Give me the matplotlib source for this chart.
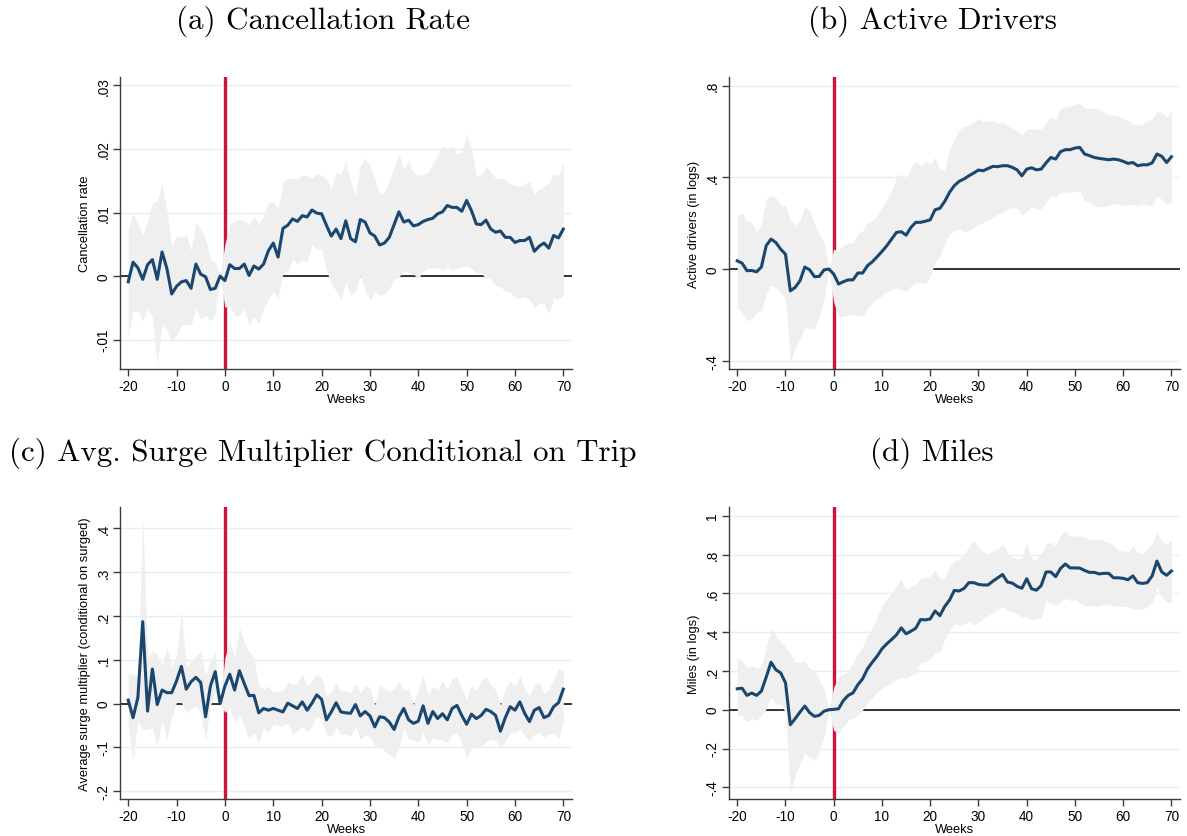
import numpy as np
import matplotlib
matplotlib.use("Agg")
from matplotlib import pyplot as plt

plt.rcParams['font.family'] = ['Liberation Sans', 'DejaVu Sans']
plt.rcParams['axes.unicode_minus'] = False

weeks = np.arange(-20, 71)

# (a) cancellation rate
cancel_coef = [-0.0009, 0.0022, 0.0013, -0.0005, 0.0018, 0.0026, -0.0005, 0.0038, 0.0012, -0.0028,
               -0.0016, -0.0009, -0.0007, -0.0019, 0.0019, 0.0003, -0.0001, -0.0021, -0.0019, 0.0,
               -0.0007, 0.0018, 0.0012, 0.0012, 0.0019, 0.0001, 0.0016, 0.0011, 0.0019, 0.0040,
               0.0052, 0.0030, 0.0075, 0.0080, 0.0090, 0.0086, 0.0095, 0.0093, 0.0104, 0.0099,
               0.0098, 0.0080, 0.0063, 0.0074, 0.0059, 0.0087, 0.0059, 0.0054, 0.0089, 0.0085,
               0.0068, 0.0063, 0.0049, 0.0052, 0.0061, 0.0081, 0.0101, 0.0085, 0.0088, 0.0079,
               0.0081, 0.0086, 0.0089, 0.0091, 0.0098, 0.0101, 0.0111, 0.0108, 0.0108, 0.0102,
               0.0119, 0.0103, 0.0082, 0.0081, 0.0088, 0.0074, 0.0069, 0.0071, 0.0061, 0.0061,
               0.0053, 0.0056, 0.0056, 0.0061, 0.0039, 0.0047, 0.0052, 0.0044, 0.0064, 0.0060, 0.0074]
cancel_hi = [0.0074, 0.0100, 0.0082, 0.0065, 0.0087, 0.0114, 0.0119, 0.0145, 0.0103, 0.0046,
             0.0064, 0.0061, 0.0066, 0.0040, 0.0084, 0.0074, 0.0059, 0.0027, 0.0022, 0.0,
             0.0050, 0.0082, 0.0087, 0.0089, 0.0087, 0.0080, 0.0095, 0.0082, 0.0095, 0.0116,
             0.0117, 0.0106, 0.0148, 0.0154, 0.0154, 0.0153, 0.0159, 0.0158, 0.0154, 0.0161,
             0.0159, 0.0153, 0.0138, 0.0164, 0.0159, 0.0180, 0.0150, 0.0127, 0.0174, 0.0185,
             0.0174, 0.0153, 0.0129, 0.0132, 0.0150, 0.0171, 0.0192, 0.0169, 0.0182, 0.0163,
             0.0159, 0.0159, 0.0163, 0.0176, 0.0190, 0.0205, 0.0200, 0.0204, 0.0192, 0.0195,
             0.0224, 0.0200, 0.0159, 0.0159, 0.0173, 0.0163, 0.0154, 0.0153, 0.0153, 0.0145,
             0.0143, 0.0141, 0.0145, 0.0149, 0.0129, 0.0137, 0.0141, 0.0147, 0.0161, 0.0157, 0.0180]
cancel_lo = [-0.0096, -0.0055, -0.0055, -0.0071, -0.0051, -0.0064, -0.0140, -0.0075, -0.0085, -0.0104,
             -0.0093, -0.0077, -0.0075, -0.0077, -0.0051, -0.0068, -0.0061, -0.0070, -0.0059, 0.0,
             -0.0049, -0.0046, -0.0063, -0.0062, -0.0051, -0.0076, -0.0064, -0.0075, -0.0051, -0.0036,
             -0.0023, -0.0036, 0.0005, 0.0006, 0.0027, 0.0019, 0.0027, 0.0022, 0.0051, 0.0043,
             0.0042, 0.0009, -0.0012, -0.0023, -0.0036, -0.0009, -0.0030, -0.0023, 0.0001, -0.0023,
             -0.0038, -0.0024, -0.0030, -0.0028, -0.0020, -0.0005, -0.0001, 0.0008, 0.0006, 0.0003,
             -0.0004, 0.0008, 0.0013, 0.0012, 0.0014, 0.0009, 0.0014, 0.0009, 0.0012, 0.0014,
             0.0016, 0.0012, 0.0006, 0.0004, -0.0003, -0.0004, -0.0015, -0.0017, -0.0023, -0.0025,
             -0.0033, -0.0035, -0.0032, -0.0036, -0.0049, -0.0043, -0.0043, -0.0059, -0.0035, -0.0036, -0.0030]

# (b) active drivers
drivers_coef = [0.036, 0.026, -0.007, -0.006, -0.012, 0.009, 0.102, 0.131, 0.116, 0.087,
                0.065, -0.095, -0.080, -0.051, 0.009, -0.003, -0.033, -0.032, -0.003, 0.0,
                -0.022, -0.065, -0.055, -0.047, -0.047, -0.017, -0.017, 0.015, 0.032, 0.054,
                0.077, 0.102, 0.131, 0.160, 0.163, 0.148, 0.182, 0.204, 0.204, 0.209,
                0.215, 0.259, 0.265, 0.295, 0.335, 0.364, 0.383, 0.393, 0.407, 0.419,
                0.432, 0.429, 0.439, 0.448, 0.447, 0.451, 0.451, 0.444, 0.433, 0.407,
                0.436, 0.442, 0.433, 0.436, 0.463, 0.487, 0.480, 0.512, 0.521, 0.521,
                0.528, 0.531, 0.502, 0.495, 0.487, 0.483, 0.480, 0.477, 0.480, 0.477,
                0.470, 0.461, 0.465, 0.451, 0.455, 0.455, 0.463, 0.502, 0.492, 0.465, 0.490]
drivers_hi = [0.236, 0.244, 0.211, 0.204, 0.163, 0.196, 0.305, 0.320, 0.313, 0.279,
              0.279, 0.211, 0.192, 0.211, 0.269, 0.255, 0.196, 0.153, 0.119, 0.0,
              0.087, 0.080, 0.105, 0.113, 0.113, 0.153, 0.167, 0.204, 0.211, 0.233,
              0.269, 0.305, 0.342, 0.400, 0.415, 0.393, 0.444, 0.468, 0.451, 0.473,
              0.458, 0.487, 0.436, 0.429, 0.524, 0.567, 0.608, 0.623, 0.628, 0.640,
              0.657, 0.643, 0.647, 0.647, 0.637, 0.640, 0.625, 0.614, 0.604, 0.585,
              0.611, 0.614, 0.608, 0.611, 0.640, 0.662, 0.655, 0.698, 0.709, 0.712,
              0.720, 0.724, 0.705, 0.701, 0.701, 0.698, 0.684, 0.676, 0.672, 0.669,
              0.657, 0.647, 0.633, 0.628, 0.633, 0.647, 0.655, 0.687, 0.684, 0.662, 0.691]
drivers_lo = [-0.167, -0.189, -0.225, -0.218, -0.186, -0.182, -0.109, -0.070, -0.080, -0.102,
              -0.131, -0.407, -0.342, -0.305, -0.255, -0.262, -0.259, -0.204, -0.131, 0.0,
              -0.145, -0.207, -0.207, -0.200, -0.200, -0.200, -0.204, -0.172, -0.145, -0.131,
              -0.116, -0.099, -0.087, -0.084, -0.087, -0.099, -0.073, -0.058, -0.058, -0.065,
              -0.029, 0.029, 0.058, 0.109, 0.153, 0.167, 0.175, 0.163, 0.167, 0.182,
              0.196, 0.204, 0.215, 0.225, 0.240, 0.250, 0.262, 0.269, 0.265, 0.236,
              0.255, 0.273, 0.265, 0.262, 0.291, 0.320, 0.313, 0.335, 0.335, 0.337,
              0.337, 0.342, 0.298, 0.291, 0.276, 0.272, 0.273, 0.279, 0.284, 0.284,
              0.279, 0.279, 0.284, 0.276, 0.284, 0.279, 0.276, 0.320, 0.305, 0.284, 0.291]

# (c) average surge multiplier conditional on trip
surge_coef = [0.008, -0.032, 0.014, 0.187, -0.017, 0.079, -0.002, 0.031, 0.025, 0.025,
              0.052, 0.085, 0.033, 0.050, 0.060, 0.048, -0.030, 0.040, 0.073, 0.0,
              0.040, 0.067, 0.031, 0.075, 0.046, 0.018, 0.019, -0.021, -0.011, -0.015,
              -0.011, -0.015, -0.019, 0.001, -0.005, -0.011, 0.004, -0.015, 0.001, 0.020,
              0.010, -0.037, -0.019, 0.002, -0.019, -0.021, -0.022, -0.002, -0.028, -0.018,
              -0.028, -0.053, -0.030, -0.032, -0.042, -0.059, -0.030, -0.011, -0.037, -0.045,
              -0.040, -0.005, -0.045, -0.018, -0.034, -0.023, -0.037, -0.011, -0.004, -0.027,
              -0.047, -0.024, -0.034, -0.027, -0.013, -0.018, -0.027, -0.063, -0.032, -0.007,
              -0.015, 0.004, -0.022, -0.041, -0.015, -0.009, -0.032, -0.027, -0.007, 0.002, 0.033]
surge_hi = [0.069, 0.067, 0.063, 0.430, 0.102, 0.121, 0.113, 0.086, 0.128, 0.082,
            0.111, 0.212, 0.082, 0.098, 0.109, 0.121, 0.063, 0.098, 0.117, 0.0,
            0.105, 0.144, 0.102, 0.174, 0.140, 0.118, 0.105, 0.040, 0.033, 0.040,
            0.027, 0.029, 0.029, 0.050, 0.044, 0.048, 0.067, 0.040, 0.052, 0.067,
            0.060, 0.018, 0.027, 0.048, 0.029, 0.029, 0.024, 0.047, 0.024, 0.040,
            0.037, -0.003, 0.044, 0.034, 0.029, 0.033, 0.052, 0.031, 0.033, -0.002,
            0.033, 0.067, 0.021, 0.040, 0.031, 0.052, 0.033, 0.056, 0.060, 0.033,
            0.010, 0.042, 0.029, 0.052, 0.063, 0.044, 0.031, -0.003, 0.033, 0.052,
            0.040, 0.063, 0.033, 0.018, 0.044, 0.047, 0.025, 0.031, 0.056, 0.079, 0.075]
surge_lo = [-0.059, -0.131, -0.040, -0.059, -0.059, -0.055, -0.100, -0.036, -0.082, -0.032,
            0.004, 0.003, -0.021, -0.012, -0.006, -0.021, -0.085, -0.004, 0.025, 0.0,
            -0.020, -0.009, -0.042, -0.027, -0.051, -0.082, -0.066, -0.089, -0.055, -0.066,
            -0.047, -0.051, -0.051, -0.044, -0.070, -0.060, -0.051, -0.066, -0.051, -0.028,
            -0.036, -0.074, -0.074, -0.055, -0.070, -0.070, -0.074, -0.051, -0.082, -0.070,
            -0.076, -0.097, -0.098, -0.108, -0.116, -0.124, -0.100, -0.055, -0.082, -0.082,
            -0.089, -0.066, -0.093, -0.078, -0.082, -0.082, -0.089, -0.070, -0.066, -0.089,
            -0.124, -0.104, -0.097, -0.098, -0.087, -0.082, -0.085, -0.100, -0.085, -0.066,
            -0.066, -0.057, -0.074, -0.085, -0.070, -0.066, -0.076, -0.070, -0.066, -0.082, -0.040]

# (d) miles
miles_coef = [0.108, 0.111, 0.074, 0.086, 0.074, 0.096, 0.168, 0.245, 0.206, 0.190,
              0.139, -0.077, -0.046, -0.012, 0.019, -0.015, -0.034, -0.029, -0.007, 0.0,
              0.002, 0.005, 0.048, 0.074, 0.087, 0.129, 0.160, 0.211, 0.245, 0.276,
              0.314, 0.340, 0.362, 0.386, 0.422, 0.391, 0.405, 0.420, 0.465, 0.463,
              0.468, 0.509, 0.485, 0.532, 0.565, 0.615, 0.612, 0.625, 0.655, 0.655,
              0.646, 0.643, 0.643, 0.663, 0.680, 0.697, 0.658, 0.653, 0.636, 0.626,
              0.675, 0.624, 0.616, 0.640, 0.710, 0.710, 0.686, 0.728, 0.751, 0.731,
              0.731, 0.730, 0.718, 0.708, 0.708, 0.700, 0.703, 0.703, 0.680, 0.680,
              0.677, 0.670, 0.690, 0.655, 0.651, 0.655, 0.690, 0.766, 0.710, 0.693, 0.715]
miles_hi = [0.266, 0.249, 0.220, 0.228, 0.214, 0.228, 0.322, 0.417, 0.382, 0.352,
            0.322, 0.288, 0.245, 0.245, 0.249, 0.211, 0.202, 0.151, 0.108, 0.0,
            0.117, 0.168, 0.185, 0.197, 0.245, 0.288, 0.322, 0.382, 0.425, 0.477,
            0.537, 0.571, 0.605, 0.640, 0.671, 0.619, 0.631, 0.648, 0.677, 0.683,
            0.688, 0.722, 0.674, 0.677, 0.734, 0.768, 0.777, 0.803, 0.837, 0.877,
            0.837, 0.811, 0.803, 0.820, 0.828, 0.854, 0.811, 0.786, 0.777, 0.786,
            0.863, 0.777, 0.774, 0.803, 0.854, 0.863, 0.846, 0.897, 0.923, 0.897,
            0.894, 0.897, 0.889, 0.880, 0.877, 0.877, 0.871, 0.863, 0.846, 0.820,
            0.820, 0.811, 0.846, 0.811, 0.803, 0.828, 0.854, 0.914, 0.871, 0.854, 0.877]
miles_lo = [-0.033, -0.029, -0.060, -0.046, -0.055, -0.029, 0.005, 0.065, 0.031, 0.026,
            -0.012, -0.424, -0.338, -0.278, -0.226, -0.244, -0.261, -0.218, -0.141, 0.0,
            -0.106, -0.124, -0.089, -0.051, -0.043, -0.029, 0.000, 0.036, 0.065, 0.091,
            0.111, 0.125, 0.139, 0.156, 0.168, 0.160, 0.177, 0.190, 0.245, 0.249,
            0.262, 0.297, 0.297, 0.365, 0.408, 0.443, 0.437, 0.437, 0.460, 0.437,
            0.451, 0.468, 0.485, 0.503, 0.516, 0.533, 0.511, 0.506, 0.494, 0.477,
            0.477, 0.465, 0.468, 0.477, 0.563, 0.551, 0.537, 0.554, 0.575, 0.563,
            0.568, 0.551, 0.537, 0.537, 0.537, 0.533, 0.545, 0.540, 0.537, 0.533,
            0.533, 0.533, 0.520, 0.520, 0.520, 0.528, 0.554, 0.631, 0.580, 0.554, 0.554]

xticks = [-20, -10, 0, 10, 20, 30, 40, 50, 60, 70]
xtick_labels = ['-20', '-10', '0', '10', '20', '30', '40', '50', '60', '70']

titles = ['(a) Cancellation Rate', '(b) Active Drivers',
          '(c) Avg. Surge Multiplier Conditional on Trip', '(d) Miles']
ylabels = ['Cancellation rate', 'Active drivers (in logs)',
           'Average surge multiplier (conditional on surged)', 'Miles (in logs)']
yticks_a = [-0.01, 0, 0.01, 0.02, 0.03]
ylabels_a = ['-.01', '0', '.01', '.02', '.03']
yticks_b = [-0.4, 0, 0.4, 0.8]
ylabels_b = ['-.4', '0', '.4', '.8']
yticks_c = [-0.2, -0.1, 0, 0.1, 0.2, 0.3, 0.4]
ylabels_c = ['-.2', '-.1', '0', '.1', '.2', '.3', '.4']
yticks_d = [-0.4, -0.2, 0, 0.2, 0.4, 0.6, 0.8, 1.0]
ylabels_d = ['-.4', '-.2', '0', '.2', '.4', '.6', '.8', '1']

LINE = '#1a476f'
BAND = '#efefef'
RED = '#d1133c'
GRID = '#e6eff0'
AXIS = '#3c3c3c'


def draw_panel(rect, coef, lo, hi, ylim, yticks, ytick_labels, ylabel):
    ax = fig.add_axes(rect)
    for y in yticks:
        ax.axhline(y, color=GRID, lw=1.0, zorder=0)
    ax.axvline(0, color=RED, lw=2.4, zorder=1)
    ax.axhline(0, color='black', lw=1.1, zorder=1)
    ax.fill_between(weeks, lo, hi, color=BAND, lw=0, zorder=2)
    ax.plot(weeks, coef, color=LINE, lw=2.2, zorder=3)
    ax.set_xlim(-21.7, 71.8)
    ax.set_ylim(*ylim)
    ax.set_xticks(xticks)
    ax.set_xticklabels(xtick_labels)
    ax.set_yticks(yticks)
    ax.set_yticklabels(ytick_labels, rotation=90, va='center')
    for s in ['top', 'right']:
        ax.spines[s].set_visible(False)
    for s in ['left', 'bottom']:
        ax.spines[s].set_color(AXIS)
        ax.spines[s].set_linewidth(1.0)
    ax.tick_params(direction='out', length=5, width=1, color=AXIS,
                   labelsize=9.8, labelcolor='black', pad=2)
    ax.set_xlabel('Weeks', fontsize=9.3, labelpad=0)
    ax.set_ylabel(ylabel, fontsize=9.3, labelpad=4)
    return ax


fig = plt.figure(figsize=(11.87, 8.37), dpi=100)

draw_panel([0.1011, 0.5579, 0.3808, 0.3489], cancel_coef, cancel_lo, cancel_hi,
           (-0.0146, 0.0313), yticks_a, ylabels_a, ylabels[0])
draw_panel([0.6142, 0.5579, 0.3800, 0.3489], drivers_coef, drivers_lo, drivers_hi,
           (-0.436, 0.838), yticks_b, ylabels_b, ylabels[1])
draw_panel([0.1011, 0.0442, 0.3808, 0.3489], surge_coef, surge_lo, surge_hi,
           (-0.2176, 0.4487), yticks_c, ylabels_c, ylabels[2])
draw_panel([0.6142, 0.0442, 0.3800, 0.3489], miles_coef, miles_lo, miles_hi,
           (-0.460, 1.045), yticks_d, ylabels_d, ylabels[3])

title_pos = [(323 / 1187, 1 - 21 / 837), (932 / 1187, 1 - 21 / 837),
             (323 / 1187, 1 - 453 / 837), (932 / 1187, 1 - 453 / 837)]
for t, (x, y) in zip(titles, title_pos):
    fig.text(x, y, t, ha='center', va='center', fontsize=22.4, family='cmr10')

fig.savefig('out.png', dpi=100)
